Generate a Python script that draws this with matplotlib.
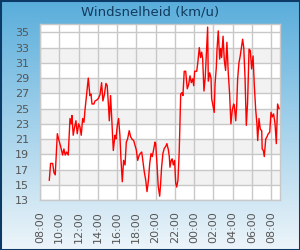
import numpy as np
import pandas as pd
import matplotlib
matplotlib.use("Agg")
import matplotlib.pyplot as plt
import matplotlib.dates as mdates
from matplotlib.patches import Rectangle

# Windsnelheid over 24 uur (km/u)
start = "2024-06-01 08:00"
times = [
    "08:58", "09:06", "09:19", "09:27", "09:35", "09:48", "09:56", "10:09", "10:21", "10:29",
    "10:37", "10:46", "10:56", "11:07", "11:15", "11:19", "11:27", "11:36", "11:44", "11:52",
    "12:01", "12:09", "12:17", "12:26", "12:34", "12:40", "12:51", "13:01", "13:11", "13:18",
    "13:24", "13:36", "13:43", "13:53", "14:03", "14:14", "14:24", "14:32", "14:41", "14:51",
    "14:59", "15:05", "15:12", "15:20", "15:29", "15:37", "15:47", "15:53", "16:02", "16:10",
    "16:18", "16:25", "16:33", "16:41", "16:50", "16:58", "17:06", "17:16", "17:25", "17:33",
    "17:44", "17:52", "18:00", "18:09", "18:17", "18:25", "18:34", "18:42", "18:50", "18:59",
    "19:07", "19:15", "19:24", "19:32", "19:40", "19:48", "19:57", "20:01", "20:09", "20:17",
    "20:26", "20:32", "20:38", "20:46", "20:55", "21:03", "21:11", "21:20", "21:26", "21:30",
    "21:38", "21:44", "21:51", "21:59", "22:06", "22:12", "22:20", "22:28", "22:37", "22:45",
    "22:51", "22:59", "23:08", "23:18", "23:27", "23:35", "23:43", "23:52", "23:58", "00:04",
    "00:17", "00:25", "00:33", "00:41", "00:48", "00:54", "01:02", "01:10", "01:19", "01:25",
    "01:29", "01:38", "01:46", "01:50", "01:58", "02:06", "02:11", "02:19", "02:23", "02:31",
    "02:40", "02:46", "02:52", "03:01", "03:09", "03:17", "03:25", "03:34", "03:42", "03:50",
    "03:58", "04:07", "04:11", "04:20", "04:26", "04:32", "04:40", "04:48", "04:57", "05:03",
    "05:10", "05:18", "05:26", "05:34", "05:43", "05:51", "05:59", "06:08", "06:16", "06:24",
    "06:32", "06:37", "06:45", "06:53", "07:02", "07:05", "07:12", "07:18", "07:27", "07:35",
    "07:43", "07:52", "08:00", "08:08", "08:16", "08:25", "08:33", "08:41", "08:50",
]
wind = [
    15.6, 17.8, 17.8, 16.6, 16.3, 21.7, 21.0, 20.0, 18.9, 19.7,
    18.9, 19.3, 18.9, 23.7, 23.0, 24.1, 21.5, 22.6, 23.4, 21.7,
    23.0, 22.6, 21.5, 23.7, 23.2, 24.7, 26.9, 29.0, 26.7, 26.9,
    25.6, 25.6, 26.0, 26.1, 26.3, 26.8, 28.4, 26.0, 26.8, 28.3,
    28.0, 26.0, 23.4, 26.7, 23.0, 19.5, 21.5, 21.0, 22.8, 23.7,
    21.5, 18.2, 15.4, 18.2, 17.6, 20.6, 21.0, 22.1, 21.3, 21.0,
    20.8, 20.2, 19.6, 18.2, 18.8, 19.1, 19.3, 18.0, 16.7, 15.6,
    14.1, 15.4, 17.8, 19.1, 18.7, 19.6, 20.6, 20.4, 17.8, 14.8,
    13.5, 15.2, 17.3, 19.1, 19.8, 20.0, 20.4, 19.6, 18.7, 17.3,
    18.2, 18.4, 17.6, 18.2, 15.2, 14.7, 15.6, 19.5, 26.9, 27.1,
    26.7, 29.9, 29.9, 27.6, 28.2, 29.3, 28.4, 28.9, 28.0, 29.9,
    29.9, 31.3, 33.0, 31.7, 32.4, 31.5, 27.3, 29.1, 33.0, 35.7,
    28.6, 29.7, 29.0, 26.3, 25.4, 24.5, 28.2, 30.4, 32.6, 35.2,
    31.5, 32.9, 31.7, 34.5, 31.3, 30.0, 33.7, 29.5, 26.9, 23.0,
    24.7, 25.6, 25.4, 23.4, 25.4, 28.9, 31.0, 31.9, 33.2, 34.1,
    33.0, 29.1, 22.8, 25.8, 32.8, 32.6, 30.2, 31.9, 28.0, 25.0,
    23.0, 20.8, 23.7, 22.3, 22.1, 19.7, 19.5, 18.7, 21.0, 21.3,
    21.7, 21.9, 24.5, 23.9, 24.3, 23.0, 20.4, 25.6, 25.0,
]
y_ticks = [13, 15, 17, 19, 21, 23, 25, 27, 29, 31, 33, 35]


def build_index(start, times):
    # tijden lopen over middernacht heen, dus dag erbij tellen waar nodig
    t0 = pd.Timestamp(start)
    out = []
    prev = None
    day = 0
    for t in times:
        hh, mm = map(int, t.split(":"))
        if prev is not None and hh < prev:
            day += 1
        prev = hh
        out.append(t0.normalize() + pd.Timedelta(days=day, hours=hh, minutes=mm))
    return pd.DatetimeIndex(out)


x = build_index(start, times)
t_start = pd.Timestamp(start)
t_end = t_start + pd.Timedelta(hours=24, minutes=56)

fig = plt.figure(figsize=(3.0, 2.5), dpi=100)

# achtergrond met verloop van blauw naar bijna wit
bg = fig.add_axes([0, 0, 1, 1], zorder=-10)
grad = np.linspace(0, 1, 256).reshape(-1, 1)
top = np.array([0.35, 0.68, 0.86])
bottom = np.array([0.93, 0.96, 0.98])
img = top + (bottom - top) * grad[..., None]
img = img.reshape(256, 1, 3)
bg.imshow(img, aspect="auto", extent=[0, 1, 0, 1])
bg.add_patch(Rectangle((0, 0), 1, 1, fill=False, edgecolor="#0b3a66",
                       linewidth=2.2, transform=bg.transAxes))
bg.set_axis_off()

ax = fig.add_axes([40 / 300, 50 / 250, 240 / 300, 176 / 250])
ax.set_facecolor("white")

# grijze banden tussen de rasterlijnen
for lo in [15, 19, 23, 27, 31]:
    ax.axhspan(lo, lo + 2, color="#f2f2f2", zorder=0, lw=0)

ax.plot(x, wind, color="#ff0000", lw=1.0, zorder=3)

ax.set_ylim(13, 36.1)
ax.set_xlim(t_start, t_end)
ax.set_yticks(y_ticks)
ax.xaxis.set_major_locator(mdates.HourLocator(byhour=range(0, 24, 2)))
ax.xaxis.set_major_formatter(mdates.DateFormatter("%H:%M"))
ax.grid(True, color="#c8c8c8", lw=1.0, zorder=1)
ax.set_axisbelow(True)

for s in ax.spines.values():
    s.set_color("#c8c8c8")
    s.set_linewidth(1.0)

ax.tick_params(axis="both", length=0, labelsize=8, colors="#555555")
ax.tick_params(axis="y", pad=8)
ax.tick_params(axis="x", pad=8, labelrotation=90)

fig.text(0.5, 0.952, "Windsnelheid (km/u)", ha="center", va="center",
         fontsize=9.5, color="#123a5e")

fig.savefig("out.png", dpi=100)
